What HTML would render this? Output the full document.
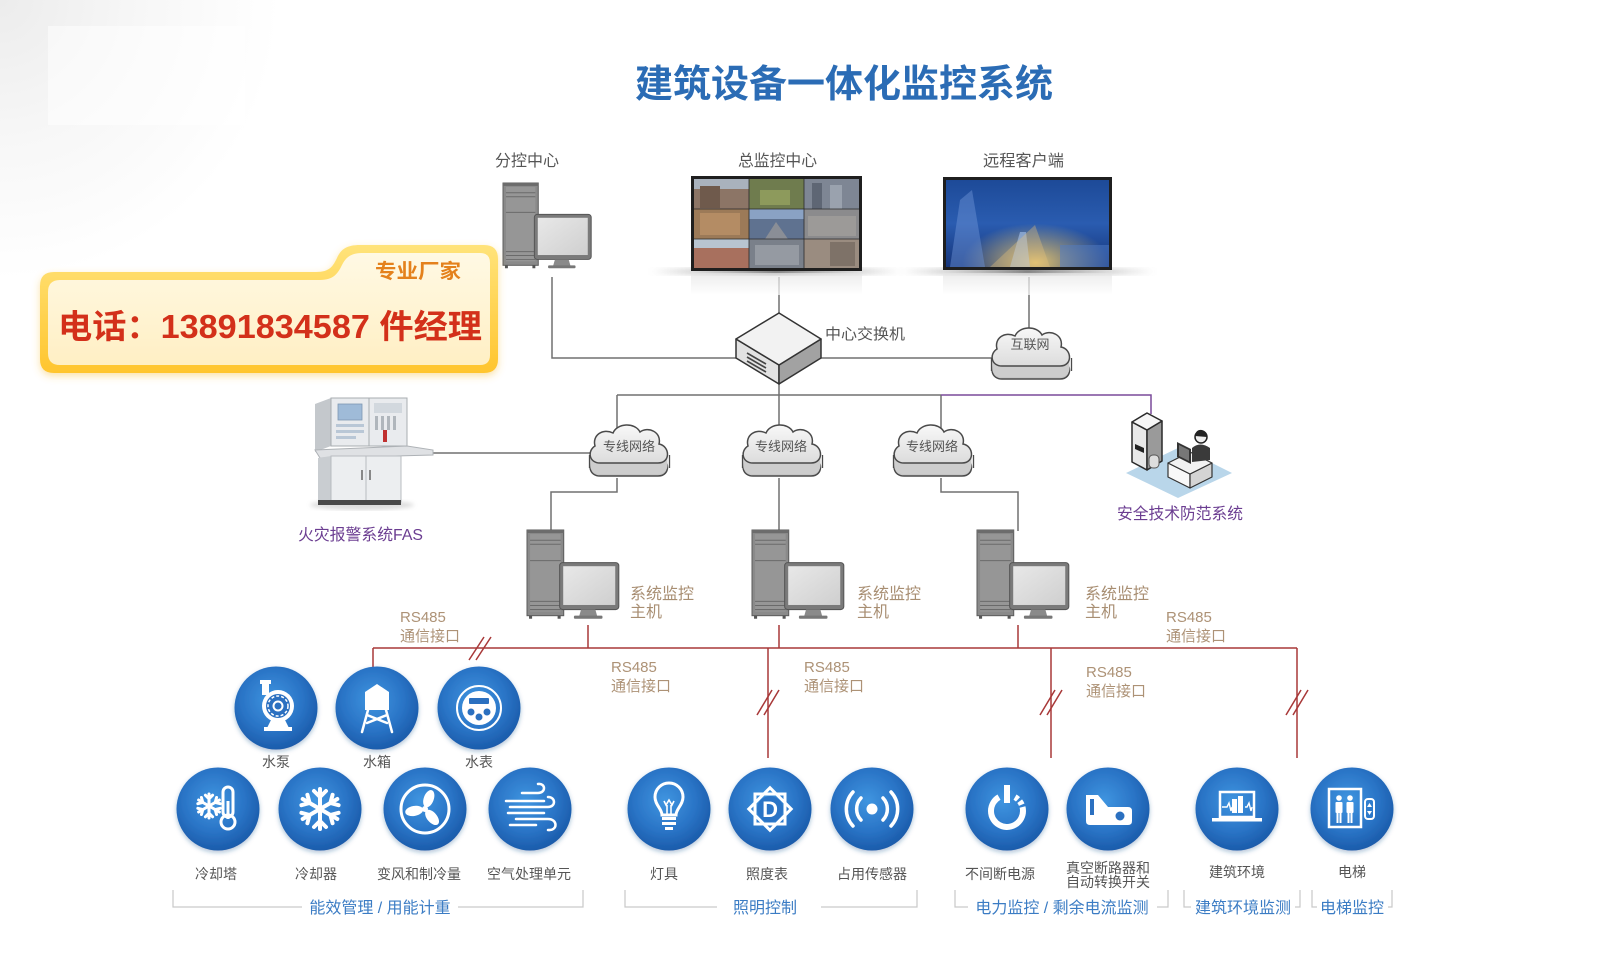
<!DOCTYPE html>
<html><head><meta charset="utf-8">
<style>
html,body{margin:0;padding:0;background:#fff;}
svg{display:block;}
text{font-family:"Liberation Sans","Noto Sans CJK SC",sans-serif;}
</style></head>
<body>
<svg width="1600" height="960" viewBox="0 0 1600 960" xmlns="http://www.w3.org/2000/svg">
<defs>
  <radialGradient id="bgL" cx="0" cy="0" r="280" gradientUnits="userSpaceOnUse">
    <stop offset="0" stop-color="#ececec"/><stop offset="0.5" stop-color="#f7f7f7"/><stop offset="1" stop-color="#ffffff"/>
  </radialGradient>
  <radialGradient id="cg" cx="0.45" cy="0.4" r="0.62">
    <stop offset="0" stop-color="#3f95e0"/><stop offset="0.6" stop-color="#2a74c6"/><stop offset="1" stop-color="#1a5aa9"/>
  </radialGradient>
  <linearGradient id="ct" x1="0" y1="0" x2="0" y2="1">
    <stop offset="0" stop-color="#f8f8f8"/><stop offset="1" stop-color="#dcdcdc"/>
  </linearGradient>
  <linearGradient id="bannerO" x1="0" y1="0" x2="0" y2="1">
    <stop offset="0" stop-color="#ffe37a"/><stop offset="1" stop-color="#ffc52e"/>
  </linearGradient>
  <linearGradient id="bannerI" x1="0" y1="0" x2="0" y2="1">
    <stop offset="0" stop-color="#fff9e4"/><stop offset="1" stop-color="#ffefc4"/>
  </linearGradient>
  <linearGradient id="shadowH" x1="0" y1="0" x2="1" y2="0">
    <stop offset="0" stop-color="#888" stop-opacity="0"/><stop offset="0.5" stop-color="#555" stop-opacity="0.8"/><stop offset="1" stop-color="#888" stop-opacity="0"/>
  </linearGradient>
  <linearGradient id="refl" x1="0" y1="0" x2="0" y2="1">
    <stop offset="0" stop-color="#e4e4e4"/><stop offset="1" stop-color="#ffffff"/>
  </linearGradient>
  <linearGradient id="m2" x1="0" y1="0" x2="0" y2="1">
    <stop offset="0" stop-color="#1d4a98"/><stop offset="0.5" stop-color="#2a5cb0"/><stop offset="1" stop-color="#16357a"/>
  </linearGradient>
  <radialGradient id="m2g" cx="0.55" cy="0.95" r="0.45">
    <stop offset="0" stop-color="#f4d070" stop-opacity="0.9"/><stop offset="1" stop-color="#f4d070" stop-opacity="0"/>
  </radialGradient>
  <linearGradient id="scr" x1="0" y1="0" x2="1" y2="1">
    <stop offset="0" stop-color="#e8e8e8"/><stop offset="1" stop-color="#cfcfcf"/>
  </linearGradient>
  <filter id="sh" x="-20%" y="-20%" width="140%" height="150%">
    <feDropShadow dx="0" dy="2" stdDeviation="2.5" flood-color="#1b4f8a" flood-opacity="0.35"/>
  </filter>
  <filter id="glow" x="-10%" y="-20%" width="120%" height="140%">
    <feDropShadow dx="0" dy="3" stdDeviation="4" flood-color="#f5c040" flood-opacity="0.45"/>
  </filter>
  <filter id="blur3"><feGaussianBlur stdDeviation="2"/></filter>

  <path id="cp" d="M14,38 C3,38 1,26 9,21 C6,10 17,3 27,8 C31,-2 49,-3 54,7 C62,1 76,7 73,19 C84,21 85,38 72,38 Z"/>
  <g id="cloud">
    <use href="#cp" transform="translate(0,13)" fill="#c6c6c6" stroke="#4a4a4a" stroke-width="1.5"/>
    <use href="#cp" transform="translate(0,11)" fill="#cdcdcd"/>
    <use href="#cp" transform="translate(0,9)" fill="#cdcdcd"/>
    <use href="#cp" transform="translate(0,7)" fill="#cdcdcd"/>
    <use href="#cp" transform="translate(0,5)" fill="#cdcdcd"/>
    <use href="#cp" transform="translate(0,3)" fill="#cdcdcd"/>
    <line x1="3.5" y1="30" x2="3.5" y2="43" stroke="#4a4a4a" stroke-width="1.3"/>
    <line x1="83.5" y1="30" x2="83.5" y2="43" stroke="#4a4a4a" stroke-width="1.3"/>
    <use href="#cp" fill="url(#ct)" stroke="#4a4a4a" stroke-width="1.5"/>
  </g>

  <g id="pc">
    <rect x="0" y="0" width="36" height="84" fill="#8a8a8a" stroke="#5c5c5c" stroke-width="1"/>
    <rect x="3" y="4" width="30" height="76" fill="#969696"/>
    <rect x="0" y="0" width="36" height="3" fill="#6c6c6c"/>
    <g stroke="#6a6a6a" stroke-width="1">
      <line x1="3" y1="10" x2="33" y2="10"/><line x1="3" y1="14" x2="33" y2="14"/>
      <line x1="3" y1="30" x2="33" y2="30"/><line x1="3" y1="70" x2="33" y2="70"/>
      <line x1="3" y1="74" x2="33" y2="74"/><line x1="3" y1="78" x2="33" y2="78"/>
    </g>
    <rect x="2" y="84" width="3" height="3" fill="#555"/><rect x="30" y="84" width="3" height="3" fill="#555"/>
    <rect x="32" y="32" width="58" height="46" rx="3" fill="#7a7a7a" stroke="#555" stroke-width="1"/>
    <rect x="35.5" y="35.5" width="51" height="38" fill="url(#scr)"/>
    <polygon points="53,78 67,78 69,85 51,85" fill="#8a8a8a"/>
    <rect x="46" y="84" width="28" height="3" rx="1" fill="#777"/>
  </g>

  <g id="arm">
    <line x1="0" y1="0" x2="0" y2="-20"/>
    <line x1="0" y1="-12" x2="-6" y2="-18"/>
    <line x1="0" y1="-12" x2="6" y2="-18"/>
  </g>
  <g id="arms">
    <use href="#arm"/><use href="#arm" transform="rotate(60)"/><use href="#arm" transform="rotate(120)"/>
    <use href="#arm" transform="rotate(180)"/><use href="#arm" transform="rotate(240)"/><use href="#arm" transform="rotate(300)"/>
  </g>
</defs>

<!-- background -->
<rect x="0" y="0" width="1600" height="960" fill="#fff"/>
<rect x="0" y="0" width="400" height="320" fill="url(#bgL)"/>
<rect x="48" y="26" width="197" height="99" fill="#fff" opacity="0.5"/>

<!-- title -->
<text x="635" y="97" font-size="38" font-weight="bold" fill="#2b6cb5" textLength="418" lengthAdjust="spacingAndGlyphs">建筑设备一体化监控系统</text>

<!-- top labels -->
<g font-size="16" fill="#555">
  <text x="495" y="166" textLength="64" lengthAdjust="spacingAndGlyphs">分控中心</text>
  <text x="738" y="166" textLength="79" lengthAdjust="spacingAndGlyphs">总监控中心</text>
  <text x="983" y="166" textLength="81" lengthAdjust="spacingAndGlyphs">远程客户端</text>
</g>

<!-- gray connectors -->
<g stroke="#707070" stroke-width="1.5" fill="none">
  <polyline points="552,277 552,358 737,358"/>
  <line x1="779" y1="277" x2="779" y2="314"/>
  <line x1="821" y1="358" x2="995" y2="358"/>
  <line x1="1029" y1="277" x2="1029" y2="335"/>
  <line x1="779" y1="383" x2="779" y2="395"/>
  <line x1="617" y1="395" x2="941" y2="395"/>
  <line x1="617" y1="395" x2="617" y2="432"/>
  <line x1="779" y1="395" x2="779" y2="432"/>
  <line x1="941" y1="395" x2="941" y2="432"/>
  <line x1="433" y1="453" x2="592" y2="453"/>
  <polyline points="617,478 617,492 551,492 551,531"/>
  <line x1="779" y1="478" x2="779" y2="531"/>
  <polyline points="941,478 941,492 1018,492 1018,531"/>
</g>
<g stroke="#7a4a9a" stroke-width="1.5" fill="none">
  <polyline points="941,395 1151,395 1151,414"/>
</g>

<!-- 分控中心 PC -->
<use href="#pc" transform="translate(503,183) scale(0.98)"/>

<!-- monitor 1 -->
<rect x="650" y="268" width="252" height="7" fill="url(#shadowH)" filter="url(#blur3)"/>
<rect x="691" y="273" width="171" height="22" fill="url(#refl)" opacity="0.7"/>
<rect x="691" y="176" width="171" height="95" fill="#1f1f1f"/>
<g>
  <rect x="694" y="179" width="55" height="30" fill="#8c7566"/>
  <rect x="694" y="179" width="55" height="10" fill="#a9b2bd"/>
  <rect x="700" y="186" width="20" height="22" fill="#6f5a4c"/>
  <rect x="749" y="179" width="55" height="30" fill="#6f7c4e"/>
  <rect x="760" y="190" width="30" height="15" fill="#8d9a5c"/>
  <rect x="804" y="179" width="55" height="30" fill="#7e8694"/>
  <rect x="812" y="183" width="10" height="26" fill="#5e6674"/><rect x="830" y="185" width="12" height="24" fill="#9aa2ae"/>
  <rect x="694" y="209" width="55" height="30" fill="#9c7a58"/>
  <rect x="700" y="213" width="40" height="22" fill="#b48c64"/>
  <rect x="749" y="209" width="55" height="30" fill="#5f7290"/>
  <rect x="749" y="209" width="55" height="10" fill="#8aa2c4"/>
  <polygon points="765,239 776,222 788,239" fill="#8a8e96"/>
  <rect x="804" y="209" width="55" height="30" fill="#8b8b8d"/>
  <rect x="808" y="216" width="48" height="20" fill="#9c9a98"/>
  <rect x="694" y="239" width="55" height="29" fill="#a8705e"/>
  <rect x="694" y="239" width="55" height="9" fill="#b8c4d0"/>
  <rect x="749" y="239" width="55" height="29" fill="#7a808a"/>
  <rect x="755" y="245" width="44" height="20" fill="#959aa2"/>
  <rect x="804" y="239" width="55" height="29" fill="#9a8c80"/>
  <rect x="830" y="242" width="25" height="24" fill="#7e7268"/>
  <g stroke="#2a2a2a" stroke-width="0.8">
    <line x1="749" y1="179" x2="749" y2="268"/><line x1="804" y1="179" x2="804" y2="268"/>
    <line x1="694" y1="209" x2="859" y2="209"/><line x1="694" y1="239" x2="859" y2="239"/>
  </g>
</g>

<!-- monitor 2 -->
<rect x="900" y="268" width="255" height="7" fill="url(#shadowH)" filter="url(#blur3)"/>
<rect x="943" y="273" width="169" height="22" fill="url(#refl)" opacity="0.7"/>
<rect x="943" y="177" width="169" height="93" fill="#1f1f1f"/>
<rect x="946" y="180" width="163" height="87" fill="url(#m2)"/>
<rect x="946" y="180" width="163" height="87" fill="url(#m2g)"/>
<polygon points="950,267 960,200 972,190 985,267" fill="#6f95d6" opacity="0.45"/>
<polygon points="1010,267 1020,232 1026,232 1030,267" fill="#a9c4ee" opacity="0.6"/>
<polygon points="990,267 1035,225 1050,267" fill="#e8c27a" opacity="0.35"/>
<rect x="1060" y="245" width="49" height="22" fill="#4f7cc6" opacity="0.5"/>

<!-- switch -->
<polygon points="736,339 779,365 779,384 736,358" fill="#e2e2e2" stroke="#333" stroke-width="1.5" stroke-linejoin="round"/>
<polygon points="779,365 821,339 821,358 779,384" fill="#a2a2a2" stroke="#333" stroke-width="1.5" stroke-linejoin="round"/>
<polygon points="779,313 821,339 779,365 736,339" fill="#f2f2f2" stroke="#333" stroke-width="1.5" stroke-linejoin="round"/>
<g stroke="#444" stroke-width="1.6">
  <line x1="747" y1="353" x2="766" y2="364"/>
  <line x1="747" y1="357" x2="766" y2="368"/>
  <line x1="747" y1="361" x2="766" y2="372"/>
</g>
<text x="825" y="339" font-size="15" fill="#555" textLength="80" lengthAdjust="spacingAndGlyphs">中心交换机</text>

<!-- clouds -->
<use href="#cloud" transform="translate(988,328)"/>
<text x="1030" y="349" font-size="13" fill="#555" text-anchor="middle">互联网</text>
<use href="#cloud" transform="translate(586,425)"/>
<use href="#cloud" transform="translate(739,425)"/>
<use href="#cloud" transform="translate(890,425)"/>
<g font-size="13" fill="#555" text-anchor="middle">
  <text x="629" y="451">专线网络</text>
  <text x="781" y="451">专线网络</text>
  <text x="932" y="451">专线网络</text>
</g>

<!-- FAS cabinet -->
<g>
  <ellipse cx="362" cy="505" rx="52" ry="5" fill="#bbb" opacity="0.5" filter="url(#blur3)"/>
  <polygon points="315,404 331,398 331,446 315,452" fill="#c4c8cc"/>
  <rect x="331" y="398" width="76" height="48" fill="#e9ebee" stroke="#a8acb0" stroke-width="1"/>
  <line x1="369" y1="398" x2="369" y2="446" stroke="#a8acb0"/>
  <rect x="338" y="404" width="24" height="16" fill="#9fbbd8" stroke="#7f98b3" stroke-width="0.8"/>
  <rect x="336" y="424" width="28" height="3" fill="#b9c7d6"/><rect x="336" y="430" width="28" height="3" fill="#b9c7d6"/>
  <rect x="336" y="436" width="20" height="3" fill="#b9c7d6"/>
  <rect x="374" y="403" width="28" height="10" fill="#d2d8de"/>
  <rect x="375" y="416" width="3" height="14" fill="#b0b6bc"/><rect x="381" y="416" width="3" height="14" fill="#b0b6bc"/>
  <rect x="387" y="416" width="3" height="14" fill="#b0b6bc"/><rect x="393" y="416" width="3" height="14" fill="#b0b6bc"/>
  <rect x="383" y="430" width="4" height="12" fill="#c03030"/>
  <polygon points="315,450 407,446 433,450 433,455 320,458" fill="#dfe1e4" stroke="#aeb2b6" stroke-width="1"/>
  <polygon points="318,458 331,456 331,502 318,500" fill="#c9cdd1"/>
  <rect x="331" y="456" width="70" height="46" fill="#eceef0" stroke="#b8bcc0" stroke-width="1"/>
  <line x1="366" y1="456" x2="366" y2="502" stroke="#b8bcc0"/>
  <rect x="361" y="470" width="2" height="10" fill="#888"/><rect x="369" y="470" width="2" height="10" fill="#888"/>
  <rect x="318" y="500" width="83" height="5" fill="#4a4a4a"/>
</g>
<text x="298" y="540" font-size="16" fill="#6b3d91" textLength="125" lengthAdjust="spacingAndGlyphs">火灾报警系统FAS</text>

<!-- security system -->
<g stroke-linejoin="round">
  <polygon points="1126,473 1180,447 1232,473 1178,498" fill="#b9d6ea"/>
  <polygon points="1132,422 1147,430 1147,470 1132,462" fill="#e8e8e8" stroke="#2a2a2a" stroke-width="1.5"/>
  <polygon points="1147,430 1162,421 1162,461 1147,470" fill="#9a9a9a" stroke="#2a2a2a" stroke-width="1.5"/>
  <polygon points="1132,422 1147,413 1162,421 1147,430" fill="#f6f6f6" stroke="#2a2a2a" stroke-width="1.5"/>
  <polygon points="1135,444 1144,448 1144,453 1135,449" fill="#222"/>
  <rect x="1149" y="455" width="10" height="13" rx="4" fill="#ddd" stroke="#555" stroke-width="1"/>
  <polygon points="1168,463 1190,474 1190,488 1168,477" fill="#f8f8f8" stroke="#333" stroke-width="1.2"/>
  <polygon points="1190,474 1212,463 1212,477 1190,488" fill="#d4d4d4" stroke="#333" stroke-width="1.2"/>
  <polygon points="1168,463 1190,452 1212,463 1190,474" fill="#f2f2f2" stroke="#333" stroke-width="1.2"/>
  <path d="M1192,462 L1192,448 Q1200,441 1210,448 L1210,460 Z" fill="#3a3a3a"/>
  <circle cx="1201" cy="437" r="6" fill="#eee" stroke="#222" stroke-width="1.5"/>
  <path d="M1195,436 Q1196,429 1202,430 Q1207,431 1207,437" fill="#222"/>
  <polygon points="1177,442 1191,449 1191,464 1177,457" fill="#333"/>
  <polygon points="1179,445 1189,450 1189,461 1179,456" fill="#777"/>
</g>
<text x="1117" y="519" font-size="16" fill="#6b3d91" textLength="126" lengthAdjust="spacingAndGlyphs">安全技术防范系统</text>

<!-- host PCs -->
<use href="#pc" transform="translate(527,530) scale(1.02)"/>
<use href="#pc" transform="translate(752,530) scale(1.02)"/>
<use href="#pc" transform="translate(977,530) scale(1.02)"/>
<g font-size="16" fill="#a88e72">
  <text x="630" y="599">系统监控</text><text x="630" y="617">主机</text>
  <text x="857" y="599">系统监控</text><text x="857" y="617">主机</text>
  <text x="1085" y="599">系统监控</text><text x="1085" y="617">主机</text>
</g>

<!-- red bus -->
<g stroke="#a83838" stroke-width="1.5" fill="none">
  <line x1="373" y1="648" x2="1297" y2="648"/>
  <line x1="588" y1="625" x2="588" y2="648"/>
  <line x1="779" y1="625" x2="779" y2="648"/>
  <line x1="1018" y1="625" x2="1018" y2="648"/>
  <line x1="373" y1="648" x2="373" y2="668"/>
  <line x1="768" y1="648" x2="768" y2="758"/>
  <line x1="1051" y1="648" x2="1051" y2="758"/>
  <line x1="1297" y1="648" x2="1297" y2="758"/>
  <line x1="469" y1="660" x2="484" y2="637"/><line x1="476" y1="660" x2="491" y2="637"/>
  <line x1="757" y1="715" x2="772" y2="690"/><line x1="764" y1="715" x2="779" y2="690"/>
  <line x1="1040" y1="715" x2="1055" y2="690"/><line x1="1047" y1="715" x2="1062" y2="690"/>
  <line x1="1286" y1="715" x2="1301" y2="690"/><line x1="1293" y1="715" x2="1308" y2="690"/>
</g>
<g font-size="15" fill="#ad9276">
  <text x="400" y="622">RS485</text><text x="400" y="641">通信接口</text>
  <text x="611" y="672">RS485</text><text x="611" y="691">通信接口</text>
  <text x="804" y="672">RS485</text><text x="804" y="691">通信接口</text>
  <text x="1086" y="677">RS485</text><text x="1086" y="696">通信接口</text>
  <text x="1166" y="622">RS485</text><text x="1166" y="641">通信接口</text>
</g>

<!-- circles -->
<g filter="url(#sh)" fill="url(#cg)">
  <circle cx="276" cy="708" r="41.5"/><circle cx="377" cy="708" r="41.5"/><circle cx="479" cy="708" r="41.5"/>
  <circle cx="218" cy="809" r="41.5"/><circle cx="320" cy="809" r="41.5"/><circle cx="425" cy="809" r="41.5"/><circle cx="530" cy="809" r="41.5"/>
  <circle cx="669" cy="809" r="41.5"/><circle cx="770" cy="809" r="41.5"/><circle cx="872" cy="809" r="41.5"/>
  <circle cx="1007" cy="809" r="41.5"/><circle cx="1108" cy="809" r="41.5"/>
  <circle cx="1237" cy="809" r="41.5"/><circle cx="1352" cy="809" r="41.5"/>
</g>

<!-- icons -->
<g transform="translate(276,708)">
  <circle cx="2" cy="-2" r="16" fill="#fff"/>
  <circle cx="2" cy="-2" r="12" fill="#2b70c0"/>
  <circle cx="2" cy="-2" r="10" fill="none" stroke="#fff" stroke-width="1.5" stroke-dasharray="3,2"/>
  <circle cx="2" cy="-2" r="4.5" fill="none" stroke="#fff" stroke-width="2"/>
  <rect x="-14" y="-25" width="7" height="12" fill="#fff"/>
  <rect x="-16" y="-28" width="11" height="4" fill="#fff"/>
  <path d="M-5,12 L9,12 L13,20 L-9,20 Z" fill="#fff"/>
  <rect x="-12" y="19" width="28" height="4" fill="#fff"/>
</g>
<g transform="translate(377,708)" stroke="#fff" stroke-width="2.5" stroke-linecap="round">
  <path d="M-12,-16 L0,-24 L12,-16 Z" fill="#fff" stroke="none"/>
  <rect x="-12" y="-16" width="24" height="18" fill="#fff" stroke="none"/>
  <line x1="-9" y1="2" x2="-15" y2="24"/><line x1="9" y1="2" x2="15" y2="24"/>
  <line x1="-10" y1="7" x2="10" y2="15"/><line x1="10" y1="7" x2="-10" y2="15"/>
</g>
<g transform="translate(479,708)">
  <circle r="22" fill="none" stroke="#fff" stroke-width="2"/>
  <circle r="17" fill="#fff"/>
  <rect x="-10" y="-10" width="20" height="6" rx="1" fill="#2b70c0"/>
  <circle cx="-8" cy="4" r="3.5" fill="#2b70c0"/><circle cx="0" cy="9" r="3.5" fill="#2b70c0"/><circle cx="8" cy="4" r="3.5" fill="#2b70c0"/>
</g>
<g transform="translate(218,809)">
  <g transform="translate(-9,-3) scale(0.6)" stroke="#fff" stroke-width="5" stroke-linecap="round"><use href="#arms"/></g>
  <rect x="5" y="-22" width="10" height="30" rx="5" fill="none" stroke="#fff" stroke-width="3"/>
  <circle cx="10" cy="13" r="7" fill="none" stroke="#fff" stroke-width="3"/>
  <rect x="8.5" y="-8" width="3" height="18" fill="#fff"/>
</g>
<g transform="translate(320,809)" stroke="#fff" stroke-width="4" stroke-linecap="round"><use href="#arms"/></g>
<g transform="translate(425,809)">
  <circle r="24" fill="none" stroke="#fff" stroke-width="3"/>
  <ellipse cx="0" cy="-11" rx="5" ry="9" fill="#fff" transform="rotate(20)"/>
  <ellipse cx="0" cy="-11" rx="5" ry="9" fill="#fff" transform="rotate(140)"/>
  <ellipse cx="0" cy="-11" rx="5" ry="9" fill="#fff" transform="rotate(260)"/>
  <circle r="3" fill="#fff"/>
</g>
<g transform="translate(530,809)" stroke="#fff" stroke-width="2.5" fill="none" stroke-linecap="round">
  <path d="M-8,-16 H8 C16,-16 16,-26 8,-25"/>
  <path d="M-24,-8 H14"/>
  <path d="M-20,-2 H18 C26,-2 26,-12 18,-12"/>
  <path d="M-22,4 H14"/>
  <path d="M-14,10 H18 C28,10 28,22 18,21"/>
  <path d="M-20,16 H6"/>
</g>
<g transform="translate(669,809)">
  <path d="M-7,6 C-7,0 -14,-4 -14,-12 A14,14 0 1 1 14,-12 C14,-4 7,0 7,6 Z" fill="none" stroke="#fff" stroke-width="3"/>
  <path d="M-5,-8 L-3,-4 L0,-9 L3,-4 L5,-8 M-2,-4 L-2,5 M2,-4 L2,5" fill="none" stroke="#fff" stroke-width="1.6"/>
  <rect x="-7" y="8" width="14" height="3" fill="#fff"/><rect x="-7" y="13" width="14" height="3" fill="#fff"/>
  <rect x="-4" y="18" width="8" height="3" fill="#fff"/>
</g>
<g transform="translate(770,809)">
  <rect x="-15" y="-15" width="30" height="30" fill="none" stroke="#fff" stroke-width="3"/>
  <rect x="-15" y="-15" width="30" height="30" fill="none" stroke="#fff" stroke-width="3" transform="rotate(45)"/>
  <circle r="13" fill="#2a74c6"/>
  <text x="0" y="8" font-size="22" font-weight="bold" fill="#fff" text-anchor="middle">D</text>
</g>
<g transform="translate(872,809)" stroke="#fff" stroke-width="3.5" fill="none" stroke-linecap="round">
  <circle r="5.5" fill="#fff" stroke="none"/>
  <path d="M-11,-11 A16,16 0 0 0 -11,11"/><path d="M11,-11 A16,16 0 0 1 11,11"/>
  <path d="M-19,-17 A25,25 0 0 0 -19,17"/><path d="M19,-17 A25,25 0 0 1 19,17"/>
</g>
<g transform="translate(1007,809)">
  <path d="M-8,-11.9 A16,16 0 1 0 16,2" fill="none" stroke="#fff" stroke-width="6"/>
  <path d="M16,2 A16,16 0 0 0 8,-11.9" fill="none" stroke="#fff" stroke-width="6" stroke-dasharray="4,2.5"/>
  <rect x="-3" y="-24" width="6" height="18" fill="#fff"/>
</g>
<g transform="translate(1108,809)">
  <path d="M-22,-14 L-10,-14 L0,-2 L20,-2 Q24,-2 24,2 L24,12 Q24,16 20,16 L-18,16 Q-22,16 -22,12 Z" fill="#fff"/>
  <path d="M-18,-10 L-14,-10 L-14,6 L-18,6 Z" fill="#2b70c0"/>
  <circle cx="12" cy="7" r="4.5" fill="#2b70c0"/>
</g>
<g transform="translate(1237,809)">
  <rect x="-17" y="-17" width="34" height="25" fill="none" stroke="#fff" stroke-width="2.5"/>
  <rect x="-25" y="9" width="50" height="3.5" fill="#fff"/>
  <rect x="-5" y="-10" width="5" height="14" fill="#fff"/><rect x="1" y="-13" width="5" height="17" fill="#fff"/>
  <path d="M-15,-2 L-10,-2 L-8,-6 L-6,2 L-5,-2 M8,-2 L10,-2 L12,-6 L14,2 L15,-2" fill="none" stroke="#fff" stroke-width="1.4"/>
</g>
<g transform="translate(1352,809)">
  <rect x="-23" y="-20" width="32" height="38" fill="none" stroke="#fff" stroke-width="2.5"/>
  <circle cx="-13" cy="-11" r="2.8" fill="#fff"/><circle cx="-2" cy="-11" r="2.8" fill="#fff"/>
  <rect x="-16.5" y="-7" width="7" height="11" rx="1" fill="#fff"/><rect x="-5.5" y="-7" width="7" height="11" rx="1" fill="#fff"/>
  <rect x="-15.5" y="4" width="2" height="10" fill="#fff"/><rect x="-12.5" y="4" width="2" height="10" fill="#fff"/>
  <rect x="-4.5" y="4" width="2" height="10" fill="#fff"/><rect x="-1.5" y="4" width="2" height="10" fill="#fff"/>
  <rect x="13" y="-10" width="9" height="20" rx="3" fill="none" stroke="#fff" stroke-width="2"/>
  <path d="M17.5,-6 L20,-2 L15,-2 Z M17.5,6 L20,2 L15,2 Z" fill="#fff"/>
</g>

<!-- item labels -->
<g font-size="14" fill="#555" text-anchor="middle">
  <text x="276" y="767">水泵</text><text x="377" y="767">水箱</text><text x="479" y="767">水表</text>
  <text x="216" y="879">冷却塔</text><text x="316" y="879">冷却器</text><text x="419" y="879">变风和制冷量</text><text x="529" y="879">空气处理单元</text>
  <text x="664" y="879">灯具</text><text x="767" y="879">照度表</text><text x="872" y="879">占用传感器</text>
  <text x="1000" y="879">不间断电源</text>
  <text x="1108" y="873">真空断路器和</text><text x="1108" y="887">自动转换开关</text>
  <text x="1237" y="877">建筑环境</text><text x="1352" y="877">电梯</text>
</g>

<!-- brackets -->
<g stroke="#c9c9c9" stroke-width="1.2" fill="none">
  <polyline points="173,890 173,907 302,907"/><polyline points="458,907 583,907 583,890"/>
  <polyline points="625,890 625,907 717,907"/><polyline points="821,907 917,907 917,890"/>
  <polyline points="955,890 955,907 968,907"/><polyline points="1157,907 1168,907 1168,890"/>
  <polyline points="1184,890 1184,907 1191,907"/><polyline points="1295,907 1300,907 1300,890"/>
  <polyline points="1312,890 1312,907 1317,907"/><polyline points="1388,907 1392,907 1392,890"/>
</g>
<g font-size="16" fill="#3b7cc4" text-anchor="middle">
  <text x="380" y="913">能效管理 / 用能计重</text>
  <text x="765" y="913">照明控制</text>
  <text x="1062" y="913">电力监控 / 剩余电流监测</text>
  <text x="1243" y="913">建筑环境监测</text>
  <text x="1352" y="913">电梯监控</text>
</g>

<!-- banner -->
<g filter="url(#glow)">
  <path d="M54,272 L316,272 C330,272 333,266 337,258 C341,249 347,245 360,245 L484,245 Q498,245 498,259 L498,359 Q498,373 484,373 L54,373 Q40,373 40,359 L40,286 Q40,272 54,272 Z" fill="url(#bannerO)"/>
</g>
<path d="M60,280 L320,280 C334,280 338,273 342,265 C346,257 351,253 363,253 L480,253 Q490,253 490,263 L490,355 Q490,365 480,365 L60,365 Q48,365 48,353 L48,292 Q48,280 60,280 Z" fill="url(#bannerI)"/>
<text x="375" y="278" font-size="20" font-weight="bold" fill="#e4811c" textLength="86" lengthAdjust="spacingAndGlyphs">专业厂家</text>
<text x="58" y="338" font-size="33" font-weight="bold" fill="#d3301a" textLength="424" lengthAdjust="spacingAndGlyphs">电话：13891834587 件经理</text>

</svg>
</body></html>
